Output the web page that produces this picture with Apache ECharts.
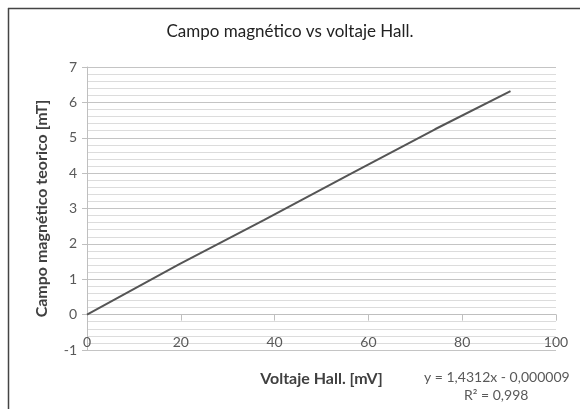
<!DOCTYPE html>
<html>
<head>
<meta charset="utf-8">
<script src="https://cdn.jsdelivr.net/npm/echarts@6/dist/echarts.min.js"></script>
<style>
html,body{margin:0;padding:0;background:#fff;}
#c{width:580px;height:409px;}
</style>
</head>
<body>
<div id="c"></div>
<script>
var voltage = [0, 19.6, 37.7, 56.1, 74.2, 90.3];
var field = [0, 1.42, 2.67, 3.97, 5.24, 6.32];
var xTicks = [0, 20, 40, 60, 80, 100];
var yTicks = [-1, 0, 1, 2, 3, 4, 5, 6, 7];
var titleText = 'Campo magnético vs voltaje Hall.';
var xName = 'Voltaje Hall. [mV]';
var yName = 'Campo magnético teorico [mT]';
var eqText = 'y = 1,4312x - 0,000009';
var r2Text = 'R² = 0,998';

var chart = echarts.init(document.getElementById('c'), null, {renderer: 'canvas'});
var FONT = 'Lato, "Open Sans", sans-serif';
var pts = voltage.map(function (v, i) { return [v, field[i]]; });

chart.setOption({
  animation: false,
  backgroundColor: '#fff',
  title: {
    text: titleText, left: 'center', top: 18,
    textStyle: {fontFamily: FONT, fontSize: 17, fontWeight: 'normal', color: '#222'}
  },
  grid: {left: 87, right: 24, top: 67, bottom: 59, outerBoundsMode: 'none', containLabel: false},
  xAxis: {
    type: 'value', min: xTicks[0], max: xTicks[xTicks.length - 1], interval: 20,
    axisLine: {show: true, onZero: true, lineStyle: {color: '#bfbfbf', width: 1}},
    axisTick: {show: true, inside: false, length: 6, lineStyle: {color: '#bfbfbf'}},
    axisLabel: {margin: -15, fontFamily: FONT, fontSize: 14, color: '#595959'},
    splitLine: {show: false},
    name: xName, nameLocation: 'middle', nameGap: 21,
    nameTextStyle: {fontFamily: FONT, fontSize: 16, fontWeight: 'bold', color: '#404040'}
  },
  yAxis: {
    type: 'value', min: yTicks[0], max: yTicks[yTicks.length - 1], interval: 1,
    axisLine: {show: true, onZero: false, lineStyle: {color: '#bfbfbf', width: 1}},
    axisTick: {show: true, inside: false, length: 5, lineStyle: {color: '#bfbfbf'}},
    axisLabel: {margin: 10, fontFamily: FONT, fontSize: 14, color: '#595959'},
    splitLine: {show: true, lineStyle: {color: '#c4c4c4', width: 1}},
    minorTick: {show: false, splitNumber: 5},
    minorSplitLine: {show: true, lineStyle: {color: '#dcdcdc', width: 1}},
    name: yName, nameLocation: 'middle', nameGap: 37, nameRotate: 90,
    nameTextStyle: {fontFamily: FONT, fontSize: 16, fontWeight: 'bold', color: '#404040'}
  },
  series: [{
    type: 'line', data: pts, showSymbol: false, symbol: 'none',
    lineStyle: {color: '#555555', width: 2}
  }],
  graphic: [
    {type: 'line', shape: {x1: 8, y1: 8.5, x2: 580, y2: 8.5}, style: {stroke: '#444', lineWidth: 1.5}},
    {type: 'line', shape: {x1: 8.5, y1: 8, x2: 8.5, y2: 409}, style: {stroke: '#444', lineWidth: 1.5}},
    {type: 'text', left: 424, top: 370, style: {text: eqText, font: '14px ' + FONT, fill: '#595959'}},
    {type: 'text', left: 464, top: 388, style: {text: r2Text, font: '14px ' + FONT, fill: '#595959'}}
  ]
});
</script>
</body>
</html>
